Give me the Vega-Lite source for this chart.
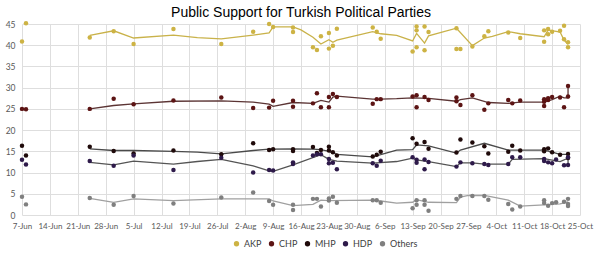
{
  "$schema": "https://vega.github.io/schema/vega-lite/v6.json",
  "width": 558,
  "height": 191,
  "autosize": {"type": "none"},
  "padding": {"left": 22, "top": 24, "right": 20, "bottom": 40},
  "background": "white",
  "title": {"text": "Public Support for Turkish Political Parties", "fontSize": 14, "font": "Liberation Sans", "fontWeight": "normal", "color": "#000000", "offset": 0, "anchor": "middle"},
  "config": {"view": {"stroke": null}},
  "datasets": {
    "polls": [
      {"date": "2015-06-07", "party": "AKP", "value": 40.9},
      {"date": "2015-06-08", "party": "AKP", "value": 45.2},
      {"date": "2015-06-24", "party": "AKP", "value": 41.8},
      {"date": "2015-06-30", "party": "AKP", "value": 43.3},
      {"date": "2015-07-05", "party": "AKP", "value": 40.3},
      {"date": "2015-07-15", "party": "AKP", "value": 43.8},
      {"date": "2015-07-27", "party": "AKP", "value": 40.3},
      {"date": "2015-08-04", "party": "AKP", "value": 43.2},
      {"date": "2015-08-08", "party": "AKP", "value": 45.0},
      {"date": "2015-08-09", "party": "AKP", "value": 44.3},
      {"date": "2015-08-14", "party": "AKP", "value": 44.2},
      {"date": "2015-08-14", "party": "AKP", "value": 43.1},
      {"date": "2015-08-19", "party": "AKP", "value": 39.5},
      {"date": "2015-08-20", "party": "AKP", "value": 38.9},
      {"date": "2015-08-21", "party": "AKP", "value": 42.1},
      {"date": "2015-08-23", "party": "AKP", "value": 42.9},
      {"date": "2015-08-23", "party": "AKP", "value": 39.2},
      {"date": "2015-08-24", "party": "AKP", "value": 39.9},
      {"date": "2015-08-25", "party": "AKP", "value": 43.9},
      {"date": "2015-09-03", "party": "AKP", "value": 44.2},
      {"date": "2015-09-04", "party": "AKP", "value": 43.2},
      {"date": "2015-09-05", "party": "AKP", "value": 41.5},
      {"date": "2015-09-13", "party": "AKP", "value": 38.5},
      {"date": "2015-09-14", "party": "AKP", "value": 44.4},
      {"date": "2015-09-14", "party": "AKP", "value": 43.5},
      {"date": "2015-09-14", "party": "AKP", "value": 39.5},
      {"date": "2015-09-16", "party": "AKP", "value": 44.4},
      {"date": "2015-09-16", "party": "AKP", "value": 38.8},
      {"date": "2015-09-17", "party": "AKP", "value": 43.1},
      {"date": "2015-09-24", "party": "AKP", "value": 44.0},
      {"date": "2015-09-24", "party": "AKP", "value": 39.1},
      {"date": "2015-09-25", "party": "AKP", "value": 39.1},
      {"date": "2015-09-28", "party": "AKP", "value": 39.7},
      {"date": "2015-10-01", "party": "AKP", "value": 42.1},
      {"date": "2015-10-02", "party": "AKP", "value": 43.3},
      {"date": "2015-10-07", "party": "AKP", "value": 43.0},
      {"date": "2015-10-10", "party": "AKP", "value": 41.7},
      {"date": "2015-10-16", "party": "AKP", "value": 40.8},
      {"date": "2015-10-16", "party": "AKP", "value": 43.5},
      {"date": "2015-10-17", "party": "AKP", "value": 42.6},
      {"date": "2015-10-17", "party": "AKP", "value": 43.8},
      {"date": "2015-10-18", "party": "AKP", "value": 43.2},
      {"date": "2015-10-20", "party": "AKP", "value": 43.4},
      {"date": "2015-10-21", "party": "AKP", "value": 44.6},
      {"date": "2015-10-21", "party": "AKP", "value": 41.4},
      {"date": "2015-10-22", "party": "AKP", "value": 40.7},
      {"date": "2015-10-22", "party": "AKP", "value": 39.5},

      {"date": "2015-06-07", "party": "CHP", "value": 25.0},
      {"date": "2015-06-08", "party": "CHP", "value": 24.9},
      {"date": "2015-06-24", "party": "CHP", "value": 25.0},
      {"date": "2015-06-30", "party": "CHP", "value": 27.4},
      {"date": "2015-07-05", "party": "CHP", "value": 26.1},
      {"date": "2015-07-15", "party": "CHP", "value": 27.0},
      {"date": "2015-07-27", "party": "CHP", "value": 27.7},
      {"date": "2015-08-04", "party": "CHP", "value": 25.2},
      {"date": "2015-08-08", "party": "CHP", "value": 25.3},
      {"date": "2015-08-09", "party": "CHP", "value": 26.9},
      {"date": "2015-08-14", "party": "CHP", "value": 26.9},
      {"date": "2015-08-14", "party": "CHP", "value": 25.5},
      {"date": "2015-08-19", "party": "CHP", "value": 26.3},
      {"date": "2015-08-20", "party": "CHP", "value": 28.7},
      {"date": "2015-08-21", "party": "CHP", "value": 25.4},
      {"date": "2015-08-23", "party": "CHP", "value": 27.8},
      {"date": "2015-08-23", "party": "CHP", "value": 25.4},
      {"date": "2015-08-24", "party": "CHP", "value": 28.5},
      {"date": "2015-08-25", "party": "CHP", "value": 27.8},
      {"date": "2015-09-03", "party": "CHP", "value": 26.2},
      {"date": "2015-09-04", "party": "CHP", "value": 27.3},
      {"date": "2015-09-05", "party": "CHP", "value": 27.3},
      {"date": "2015-09-13", "party": "CHP", "value": 27.9},
      {"date": "2015-09-14", "party": "CHP", "value": 28.2},
      {"date": "2015-09-14", "party": "CHP", "value": 25.4},
      {"date": "2015-09-16", "party": "CHP", "value": 27.8},
      {"date": "2015-09-17", "party": "CHP", "value": 27.1},
      {"date": "2015-09-24", "party": "CHP", "value": 27.7},
      {"date": "2015-09-24", "party": "CHP", "value": 26.8},
      {"date": "2015-09-25", "party": "CHP", "value": 25.9},
      {"date": "2015-09-28", "party": "CHP", "value": 28.2},
      {"date": "2015-10-01", "party": "CHP", "value": 24.8},
      {"date": "2015-10-02", "party": "CHP", "value": 26.3},
      {"date": "2015-10-07", "party": "CHP", "value": 27.1},
      {"date": "2015-10-08", "party": "CHP", "value": 26.3},
      {"date": "2015-10-10", "party": "CHP", "value": 27.0},
      {"date": "2015-10-16", "party": "CHP", "value": 27.3},
      {"date": "2015-10-16", "party": "CHP", "value": 26.7},
      {"date": "2015-10-16", "party": "CHP", "value": 25.7},
      {"date": "2015-10-17", "party": "CHP", "value": 27.1},
      {"date": "2015-10-17", "party": "CHP", "value": 27.5},
      {"date": "2015-10-18", "party": "CHP", "value": 27.8},
      {"date": "2015-10-20", "party": "CHP", "value": 27.7},
      {"date": "2015-10-21", "party": "CHP", "value": 25.4},
      {"date": "2015-10-22", "party": "CHP", "value": 27.9},
      {"date": "2015-10-22", "party": "CHP", "value": 30.4},

      {"date": "2015-06-07", "party": "MHP", "value": 16.3},
      {"date": "2015-06-08", "party": "MHP", "value": 14.0},
      {"date": "2015-06-24", "party": "MHP", "value": 16.1},
      {"date": "2015-06-30", "party": "MHP", "value": 15.1},
      {"date": "2015-07-05", "party": "MHP", "value": 14.5},
      {"date": "2015-07-15", "party": "MHP", "value": 15.2},
      {"date": "2015-07-27", "party": "MHP", "value": 14.3},
      {"date": "2015-08-04", "party": "MHP", "value": 16.9},
      {"date": "2015-08-08", "party": "MHP", "value": 15.3},
      {"date": "2015-08-09", "party": "MHP", "value": 15.5},
      {"date": "2015-08-14", "party": "MHP", "value": 15.5},
      {"date": "2015-08-14", "party": "MHP", "value": 15.1},
      {"date": "2015-08-19", "party": "MHP", "value": 16.0},
      {"date": "2015-08-20", "party": "MHP", "value": 14.6},
      {"date": "2015-08-21", "party": "MHP", "value": 15.3},
      {"date": "2015-08-23", "party": "MHP", "value": 16.1},
      {"date": "2015-08-23", "party": "MHP", "value": 15.2},
      {"date": "2015-08-24", "party": "MHP", "value": 14.8},
      {"date": "2015-08-25", "party": "MHP", "value": 14.0},
      {"date": "2015-09-03", "party": "MHP", "value": 13.8},
      {"date": "2015-09-04", "party": "MHP", "value": 14.2},
      {"date": "2015-09-05", "party": "MHP", "value": 14.9},
      {"date": "2015-09-13", "party": "MHP", "value": 18.1},
      {"date": "2015-09-14", "party": "MHP", "value": 16.8},
      {"date": "2015-09-16", "party": "MHP", "value": 17.2},
      {"date": "2015-09-17", "party": "MHP", "value": 15.6},
      {"date": "2015-09-24", "party": "MHP", "value": 14.7},
      {"date": "2015-09-25", "party": "MHP", "value": 17.8},
      {"date": "2015-09-28", "party": "MHP", "value": 17.1},
      {"date": "2015-10-01", "party": "MHP", "value": 16.2},
      {"date": "2015-10-02", "party": "MHP", "value": 14.5},
      {"date": "2015-10-07", "party": "MHP", "value": 14.9},
      {"date": "2015-10-08", "party": "MHP", "value": 16.3},
      {"date": "2015-10-10", "party": "MHP", "value": 15.2},
      {"date": "2015-10-16", "party": "MHP", "value": 15.5},
      {"date": "2015-10-16", "party": "MHP", "value": 15.0},
      {"date": "2015-10-17", "party": "MHP", "value": 15.7},
      {"date": "2015-10-18", "party": "MHP", "value": 14.8},
      {"date": "2015-10-20", "party": "MHP", "value": 14.2},
      {"date": "2015-10-22", "party": "MHP", "value": 14.4},
      {"date": "2015-10-22", "party": "MHP", "value": 13.4},

      {"date": "2015-06-07", "party": "HDP", "value": 13.0},
      {"date": "2015-06-08", "party": "HDP", "value": 11.9},
      {"date": "2015-06-24", "party": "HDP", "value": 12.7},
      {"date": "2015-06-30", "party": "HDP", "value": 11.6},
      {"date": "2015-07-05", "party": "HDP", "value": 14.0},
      {"date": "2015-07-15", "party": "HDP", "value": 10.6},
      {"date": "2015-07-27", "party": "HDP", "value": 13.5},
      {"date": "2015-08-04", "party": "HDP", "value": 10.0},
      {"date": "2015-08-08", "party": "HDP", "value": 10.6},
      {"date": "2015-08-09", "party": "HDP", "value": 10.5},
      {"date": "2015-08-14", "party": "HDP", "value": 12.4},
      {"date": "2015-08-14", "party": "HDP", "value": 12.0},
      {"date": "2015-08-19", "party": "HDP", "value": 14.0},
      {"date": "2015-08-20", "party": "HDP", "value": 14.3},
      {"date": "2015-08-21", "party": "HDP", "value": 14.3},
      {"date": "2015-08-23", "party": "HDP", "value": 13.2},
      {"date": "2015-08-23", "party": "HDP", "value": 12.2},
      {"date": "2015-08-24", "party": "HDP", "value": 12.3},
      {"date": "2015-08-25", "party": "HDP", "value": 10.8},
      {"date": "2015-09-03", "party": "HDP", "value": 12.2},
      {"date": "2015-09-04", "party": "HDP", "value": 11.6},
      {"date": "2015-09-05", "party": "HDP", "value": 12.8},
      {"date": "2015-09-13", "party": "HDP", "value": 13.6},
      {"date": "2015-09-14", "party": "HDP", "value": 13.0},
      {"date": "2015-09-14", "party": "HDP", "value": 12.3},
      {"date": "2015-09-16", "party": "HDP", "value": 13.1},
      {"date": "2015-09-16", "party": "HDP", "value": 10.8},
      {"date": "2015-09-17", "party": "HDP", "value": 12.5},
      {"date": "2015-09-24", "party": "HDP", "value": 11.4},
      {"date": "2015-09-25", "party": "HDP", "value": 12.4},
      {"date": "2015-09-28", "party": "HDP", "value": 12.2},
      {"date": "2015-10-01", "party": "HDP", "value": 12.0},
      {"date": "2015-10-02", "party": "HDP", "value": 11.8},
      {"date": "2015-10-07", "party": "HDP", "value": 12.0},
      {"date": "2015-10-08", "party": "HDP", "value": 13.6},
      {"date": "2015-10-10", "party": "HDP", "value": 13.6},
      {"date": "2015-10-16", "party": "HDP", "value": 13.2},
      {"date": "2015-10-16", "party": "HDP", "value": 12.7},
      {"date": "2015-10-17", "party": "HDP", "value": 12.4},
      {"date": "2015-10-18", "party": "HDP", "value": 12.2},
      {"date": "2015-10-19", "party": "HDP", "value": 13.1},
      {"date": "2015-10-21", "party": "HDP", "value": 11.7},
      {"date": "2015-10-22", "party": "HDP", "value": 13.6},
      {"date": "2015-10-22", "party": "HDP", "value": 11.8},

      {"date": "2015-06-07", "party": "Others", "value": 4.3},
      {"date": "2015-06-08", "party": "Others", "value": 2.5},
      {"date": "2015-06-24", "party": "Others", "value": 4.0},
      {"date": "2015-06-30", "party": "Others", "value": 2.4},
      {"date": "2015-07-05", "party": "Others", "value": 4.5},
      {"date": "2015-07-15", "party": "Others", "value": 2.7},
      {"date": "2015-07-27", "party": "Others", "value": 4.1},
      {"date": "2015-08-04", "party": "Others", "value": 5.3},
      {"date": "2015-08-08", "party": "Others", "value": 3.3},
      {"date": "2015-08-09", "party": "Others", "value": 2.4},
      {"date": "2015-08-14", "party": "Others", "value": 2.4},
      {"date": "2015-08-14", "party": "Others", "value": 1.2},
      {"date": "2015-08-19", "party": "Others", "value": 3.8},
      {"date": "2015-08-20", "party": "Others", "value": 3.8},
      {"date": "2015-08-21", "party": "Others", "value": 2.0},
      {"date": "2015-08-23", "party": "Others", "value": 3.4},
      {"date": "2015-08-23", "party": "Others", "value": 3.9},
      {"date": "2015-08-24", "party": "Others", "value": 4.3},
      {"date": "2015-08-25", "party": "Others", "value": 2.9},
      {"date": "2015-09-03", "party": "Others", "value": 3.5},
      {"date": "2015-09-04", "party": "Others", "value": 3.5},
      {"date": "2015-09-05", "party": "Others", "value": 2.9},
      {"date": "2015-09-13", "party": "Others", "value": 1.6},
      {"date": "2015-09-14", "party": "Others", "value": 3.5},
      {"date": "2015-09-14", "party": "Others", "value": 2.4},
      {"date": "2015-09-16", "party": "Others", "value": 3.5},
      {"date": "2015-09-16", "party": "Others", "value": 2.4},
      {"date": "2015-09-17", "party": "Others", "value": 1.0},
      {"date": "2015-09-24", "party": "Others", "value": 3.8},
      {"date": "2015-09-25", "party": "Others", "value": 4.5},
      {"date": "2015-09-28", "party": "Others", "value": 4.5},
      {"date": "2015-10-01", "party": "Others", "value": 4.5},
      {"date": "2015-10-02", "party": "Others", "value": 3.6},
      {"date": "2015-10-07", "party": "Others", "value": 2.6},
      {"date": "2015-10-08", "party": "Others", "value": 1.3},
      {"date": "2015-10-10", "party": "Others", "value": 2.0},
      {"date": "2015-10-16", "party": "Others", "value": 3.5},
      {"date": "2015-10-16", "party": "Others", "value": 2.8},
      {"date": "2015-10-17", "party": "Others", "value": 2.2},
      {"date": "2015-10-18", "party": "Others", "value": 2.8},
      {"date": "2015-10-19", "party": "Others", "value": 3.0},
      {"date": "2015-10-21", "party": "Others", "value": 3.1},
      {"date": "2015-10-22", "party": "Others", "value": 3.8},
      {"date": "2015-10-22", "party": "Others", "value": 2.6},
      {"date": "2015-10-22", "party": "Others", "value": 2.1}
    ],
    "trend": [
      {"i": 1, "date": "2015-06-24", "party": "AKP", "value": 42.3},
      {"i": 2, "date": "2015-06-30", "party": "AKP", "value": 43.4},
      {"i": 3, "date": "2015-07-05", "party": "AKP", "value": 41.7},
      {"i": 4, "date": "2015-07-15", "party": "AKP", "value": 42.4},
      {"i": 5, "date": "2015-07-21", "party": "AKP", "value": 41.8},
      {"i": 6, "date": "2015-07-27", "party": "AKP", "value": 41.5},
      {"i": 7, "date": "2015-08-04", "party": "AKP", "value": 42.4},
      {"i": 8, "date": "2015-08-08", "party": "AKP", "value": 42.9},
      {"i": 9, "date": "2015-08-09", "party": "AKP", "value": 44.3},
      {"i": 10, "date": "2015-08-14", "party": "AKP", "value": 44.3},
      {"i": 11, "date": "2015-08-16", "party": "AKP", "value": 43.6},
      {"i": 12, "date": "2015-08-19", "party": "AKP", "value": 41.9},
      {"i": 13, "date": "2015-08-21", "party": "AKP", "value": 40.3},
      {"i": 14, "date": "2015-08-23", "party": "AKP", "value": 41.3},
      {"i": 15, "date": "2015-08-24", "party": "AKP", "value": 40.7},
      {"i": 16, "date": "2015-08-25", "party": "AKP", "value": 41.2},
      {"i": 17, "date": "2015-09-03", "party": "AKP", "value": 43.2},
      {"i": 18, "date": "2015-09-05", "party": "AKP", "value": 42.7},
      {"i": 19, "date": "2015-09-09", "party": "AKP", "value": 42.3},
      {"i": 20, "date": "2015-09-13", "party": "AKP", "value": 41.0},
      {"i": 21, "date": "2015-09-14", "party": "AKP", "value": 42.8},
      {"i": 22, "date": "2015-09-16", "party": "AKP", "value": 40.5},
      {"i": 23, "date": "2015-09-17", "party": "AKP", "value": 42.2},
      {"i": 24, "date": "2015-09-24", "party": "AKP", "value": 44.0},
      {"i": 25, "date": "2015-09-28", "party": "AKP", "value": 39.9},
      {"i": 26, "date": "2015-10-01", "party": "AKP", "value": 41.7},
      {"i": 27, "date": "2015-10-03", "party": "AKP", "value": 42.1},
      {"i": 28, "date": "2015-10-07", "party": "AKP", "value": 43.2},
      {"i": 29, "date": "2015-10-10", "party": "AKP", "value": 42.7},
      {"i": 30, "date": "2015-10-16", "party": "AKP", "value": 42.0},
      {"i": 31, "date": "2015-10-17", "party": "AKP", "value": 43.6},
      {"i": 32, "date": "2015-10-20", "party": "AKP", "value": 43.1},
      {"i": 33, "date": "2015-10-21", "party": "AKP", "value": 41.2},
      {"i": 34, "date": "2015-10-22", "party": "AKP", "value": 40.2},

      {"i": 1, "date": "2015-06-24", "party": "CHP", "value": 25.0},
      {"i": 2, "date": "2015-06-30", "party": "CHP", "value": 25.8},
      {"i": 3, "date": "2015-07-05", "party": "CHP", "value": 26.2},
      {"i": 4, "date": "2015-07-15", "party": "CHP", "value": 26.8},
      {"i": 5, "date": "2015-07-27", "party": "CHP", "value": 26.9},
      {"i": 6, "date": "2015-08-04", "party": "CHP", "value": 26.6},
      {"i": 7, "date": "2015-08-08", "party": "CHP", "value": 26.1},
      {"i": 8, "date": "2015-08-09", "party": "CHP", "value": 25.6},
      {"i": 9, "date": "2015-08-14", "party": "CHP", "value": 26.5},
      {"i": 10, "date": "2015-08-19", "party": "CHP", "value": 26.3},
      {"i": 11, "date": "2015-08-21", "party": "CHP", "value": 27.0},
      {"i": 12, "date": "2015-08-23", "party": "CHP", "value": 26.6},
      {"i": 13, "date": "2015-08-24", "party": "CHP", "value": 27.8},
      {"i": 14, "date": "2015-08-25", "party": "CHP", "value": 28.0},
      {"i": 15, "date": "2015-09-03", "party": "CHP", "value": 27.3},
      {"i": 16, "date": "2015-09-05", "party": "CHP", "value": 27.3},
      {"i": 17, "date": "2015-09-09", "party": "CHP", "value": 27.4},
      {"i": 18, "date": "2015-09-13", "party": "CHP", "value": 27.6},
      {"i": 19, "date": "2015-09-17", "party": "CHP", "value": 27.5},
      {"i": 20, "date": "2015-09-24", "party": "CHP", "value": 26.8},
      {"i": 21, "date": "2015-09-25", "party": "CHP", "value": 27.2},
      {"i": 22, "date": "2015-09-28", "party": "CHP", "value": 27.6},
      {"i": 23, "date": "2015-10-02", "party": "CHP", "value": 26.5},
      {"i": 24, "date": "2015-10-07", "party": "CHP", "value": 26.3},
      {"i": 25, "date": "2015-10-10", "party": "CHP", "value": 26.6},
      {"i": 26, "date": "2015-10-16", "party": "CHP", "value": 26.6},
      {"i": 27, "date": "2015-10-18", "party": "CHP", "value": 27.2},
      {"i": 28, "date": "2015-10-20", "party": "CHP", "value": 28.0},
      {"i": 29, "date": "2015-10-21", "party": "CHP", "value": 27.6},
      {"i": 30, "date": "2015-10-22", "party": "CHP", "value": 27.6},
      {"i": 31, "date": "2015-10-22", "party": "CHP", "value": 30.0},

      {"i": 1, "date": "2015-06-24", "party": "MHP", "value": 15.6},
      {"i": 2, "date": "2015-06-30", "party": "MHP", "value": 15.2},
      {"i": 3, "date": "2015-07-05", "party": "MHP", "value": 15.2},
      {"i": 4, "date": "2015-07-15", "party": "MHP", "value": 15.0},
      {"i": 5, "date": "2015-07-21", "party": "MHP", "value": 14.8},
      {"i": 6, "date": "2015-07-27", "party": "MHP", "value": 14.4},
      {"i": 7, "date": "2015-08-04", "party": "MHP", "value": 15.2},
      {"i": 8, "date": "2015-08-08", "party": "MHP", "value": 15.5},
      {"i": 9, "date": "2015-08-14", "party": "MHP", "value": 15.6},
      {"i": 10, "date": "2015-08-19", "party": "MHP", "value": 15.5},
      {"i": 11, "date": "2015-08-21", "party": "MHP", "value": 15.4},
      {"i": 12, "date": "2015-08-23", "party": "MHP", "value": 15.0},
      {"i": 13, "date": "2015-08-25", "party": "MHP", "value": 14.3},
      {"i": 14, "date": "2015-09-03", "party": "MHP", "value": 13.7},
      {"i": 15, "date": "2015-09-05", "party": "MHP", "value": 14.2},
      {"i": 16, "date": "2015-09-09", "party": "MHP", "value": 15.3},
      {"i": 17, "date": "2015-09-13", "party": "MHP", "value": 15.4},
      {"i": 18, "date": "2015-09-14", "party": "MHP", "value": 16.5},
      {"i": 19, "date": "2015-09-17", "party": "MHP", "value": 16.3},
      {"i": 20, "date": "2015-09-24", "party": "MHP", "value": 14.6},
      {"i": 21, "date": "2015-09-25", "party": "MHP", "value": 15.3},
      {"i": 22, "date": "2015-10-01", "party": "MHP", "value": 16.9},
      {"i": 23, "date": "2015-10-07", "party": "MHP", "value": 15.3},
      {"i": 24, "date": "2015-10-16", "party": "MHP", "value": 15.3},
      {"i": 25, "date": "2015-10-18", "party": "MHP", "value": 14.8},
      {"i": 26, "date": "2015-10-20", "party": "MHP", "value": 14.3},
      {"i": 27, "date": "2015-10-22", "party": "MHP", "value": 14.3},

      {"i": 1, "date": "2015-06-24", "party": "HDP", "value": 12.4},
      {"i": 2, "date": "2015-06-30", "party": "HDP", "value": 11.8},
      {"i": 3, "date": "2015-07-05", "party": "HDP", "value": 12.7},
      {"i": 4, "date": "2015-07-15", "party": "HDP", "value": 12.0},
      {"i": 5, "date": "2015-07-21", "party": "HDP", "value": 12.6},
      {"i": 6, "date": "2015-07-27", "party": "HDP", "value": 13.1},
      {"i": 7, "date": "2015-08-04", "party": "HDP", "value": 11.6},
      {"i": 8, "date": "2015-08-08", "party": "HDP", "value": 10.4},
      {"i": 9, "date": "2015-08-09", "party": "HDP", "value": 10.3},
      {"i": 10, "date": "2015-08-14", "party": "HDP", "value": 11.8},
      {"i": 11, "date": "2015-08-21", "party": "HDP", "value": 14.2},
      {"i": 12, "date": "2015-08-23", "party": "HDP", "value": 13.1},
      {"i": 13, "date": "2015-08-25", "party": "HDP", "value": 12.7},
      {"i": 14, "date": "2015-09-03", "party": "HDP", "value": 12.2},
      {"i": 15, "date": "2015-09-09", "party": "HDP", "value": 12.6},
      {"i": 16, "date": "2015-09-13", "party": "HDP", "value": 13.4},
      {"i": 17, "date": "2015-09-14", "party": "HDP", "value": 13.0},
      {"i": 18, "date": "2015-09-17", "party": "HDP", "value": 12.6},
      {"i": 19, "date": "2015-09-24", "party": "HDP", "value": 11.4},
      {"i": 20, "date": "2015-09-25", "party": "HDP", "value": 12.3},
      {"i": 21, "date": "2015-09-28", "party": "HDP", "value": 12.3},
      {"i": 22, "date": "2015-10-01", "party": "HDP", "value": 12.0},
      {"i": 23, "date": "2015-10-07", "party": "HDP", "value": 12.0},
      {"i": 24, "date": "2015-10-08", "party": "HDP", "value": 13.1},
      {"i": 25, "date": "2015-10-16", "party": "HDP", "value": 13.3},
      {"i": 26, "date": "2015-10-20", "party": "HDP", "value": 12.6},
      {"i": 27, "date": "2015-10-22", "party": "HDP", "value": 13.4},
      {"i": 28, "date": "2015-10-22", "party": "HDP", "value": 11.4},

      {"i": 1, "date": "2015-06-24", "party": "Others", "value": 3.9},
      {"i": 2, "date": "2015-06-30", "party": "Others", "value": 3.0},
      {"i": 3, "date": "2015-07-05", "party": "Others", "value": 3.8},
      {"i": 4, "date": "2015-07-15", "party": "Others", "value": 3.4},
      {"i": 5, "date": "2015-07-27", "party": "Others", "value": 3.8},
      {"i": 6, "date": "2015-08-08", "party": "Others", "value": 3.8},
      {"i": 7, "date": "2015-08-09", "party": "Others", "value": 3.3},
      {"i": 8, "date": "2015-08-14", "party": "Others", "value": 2.2},
      {"i": 9, "date": "2015-08-19", "party": "Others", "value": 2.5},
      {"i": 10, "date": "2015-08-21", "party": "Others", "value": 3.5},
      {"i": 11, "date": "2015-08-23", "party": "Others", "value": 3.4},
      {"i": 12, "date": "2015-09-03", "party": "Others", "value": 3.5},
      {"i": 13, "date": "2015-09-05", "party": "Others", "value": 3.3},
      {"i": 14, "date": "2015-09-09", "party": "Others", "value": 2.8},
      {"i": 15, "date": "2015-09-13", "party": "Others", "value": 3.0},
      {"i": 16, "date": "2015-09-14", "party": "Others", "value": 3.6},
      {"i": 17, "date": "2015-09-17", "party": "Others", "value": 3.0},
      {"i": 18, "date": "2015-09-24", "party": "Others", "value": 2.9},
      {"i": 19, "date": "2015-09-25", "party": "Others", "value": 4.2},
      {"i": 20, "date": "2015-09-27", "party": "Others", "value": 4.6},
      {"i": 21, "date": "2015-10-01", "party": "Others", "value": 4.6},
      {"i": 22, "date": "2015-10-07", "party": "Others", "value": 3.5},
      {"i": 23, "date": "2015-10-10", "party": "Others", "value": 2.1},
      {"i": 24, "date": "2015-10-16", "party": "Others", "value": 2.4},
      {"i": 25, "date": "2015-10-20", "party": "Others", "value": 2.6},
      {"i": 26, "date": "2015-10-22", "party": "Others", "value": 3.1}
    ]
  },
  "encoding": {
    "x": {
      "field": "date",
      "type": "temporal",
      "scale": {"type": "utc", "domain": [{"year": 2015, "month": 6, "date": 7, "utc": true}, {"year": 2015, "month": 10, "date": 25, "utc": true}]},
      "axis": {
        "title": null,
        "format": "%-d-%b",
        "values": [
          {"year": 2015, "month": 6, "date": 7, "utc": true},
          {"year": 2015, "month": 6, "date": 14, "utc": true},
          {"year": 2015, "month": 6, "date": 21, "utc": true},
          {"year": 2015, "month": 6, "date": 28, "utc": true},
          {"year": 2015, "month": 7, "date": 5, "utc": true},
          {"year": 2015, "month": 7, "date": 12, "utc": true},
          {"year": 2015, "month": 7, "date": 19, "utc": true},
          {"year": 2015, "month": 7, "date": 26, "utc": true},
          {"year": 2015, "month": 8, "date": 2, "utc": true},
          {"year": 2015, "month": 8, "date": 9, "utc": true},
          {"year": 2015, "month": 8, "date": 16, "utc": true},
          {"year": 2015, "month": 8, "date": 23, "utc": true},
          {"year": 2015, "month": 8, "date": 30, "utc": true},
          {"year": 2015, "month": 9, "date": 6, "utc": true},
          {"year": 2015, "month": 9, "date": 13, "utc": true},
          {"year": 2015, "month": 9, "date": 20, "utc": true},
          {"year": 2015, "month": 9, "date": 27, "utc": true},
          {"year": 2015, "month": 10, "date": 4, "utc": true},
          {"year": 2015, "month": 10, "date": 11, "utc": true},
          {"year": 2015, "month": 10, "date": 18, "utc": true},
          {"year": 2015, "month": 10, "date": 25, "utc": true}
        ],
        "grid": true,
        "gridColor": "#dedede",
        "domain": false,
        "ticks": false,
        "labelFont": "Lato",
        "labelFontSize": 8,
        "labelColor": "#595959",
        "labelPadding": 7,
        "labelOverlap": false,
        "labelFlush": false
      }
    },
    "y": {
      "field": "value",
      "type": "quantitative",
      "scale": {"domain": [0, 45], "nice": false},
      "axis": {
        "title": null,
        "values": [0, 5, 10, 15, 20, 25, 30, 35, 40, 45],
        "grid": true,
        "gridColor": "#dedede",
        "domain": false,
        "ticks": false,
        "labelFont": "Lato",
        "labelFontSize": 8.5,
        "labelColor": "#595959",
        "labelPadding": 7
      }
    }
  },
  "layer": [
    {
      "data": {"name": "trend"},
      "mark": {"type": "line", "strokeWidth": 1.3},
      "encoding": {
        "color": {
          "field": "party",
          "type": "nominal",
          "scale": {"domain": ["AKP", "CHP", "MHP", "HDP", "Others"], "range": ["#c9b24a", "#5b3434", "#4a4a4a", "#555555", "#a0a0a0"]},
          "legend": null
        },
        "order": {"field": "i", "type": "quantitative"}
      }
    },
    {
      "data": {"name": "polls"},
      "mark": {"type": "circle", "size": 20, "opacity": 1},
      "encoding": {
        "color": {
          "field": "party",
          "type": "nominal",
          "scale": {"domain": ["AKP", "CHP", "MHP", "HDP", "Others"], "range": ["#cdb344", "#5c1414", "#1f0a0a", "#2e1a4a", "#7f7f7f"]},
          "legend": {
            "title": null,
            "orient": "none",
            "legendX": 210,
            "legendY": 215,
            "direction": "horizontal",
            "symbolType": "circle",
            "symbolSize": 28,
            "symbolOpacity": 1,
            "labelFont": "Lato",
            "labelFontSize": 9,
            "labelColor": "#404040",
            "columnPadding": 5,
            "labelOffset": 3
          }
        }
      }
    }
  ],
  "resolve": {"scale": {"color": "independent"}}
}
